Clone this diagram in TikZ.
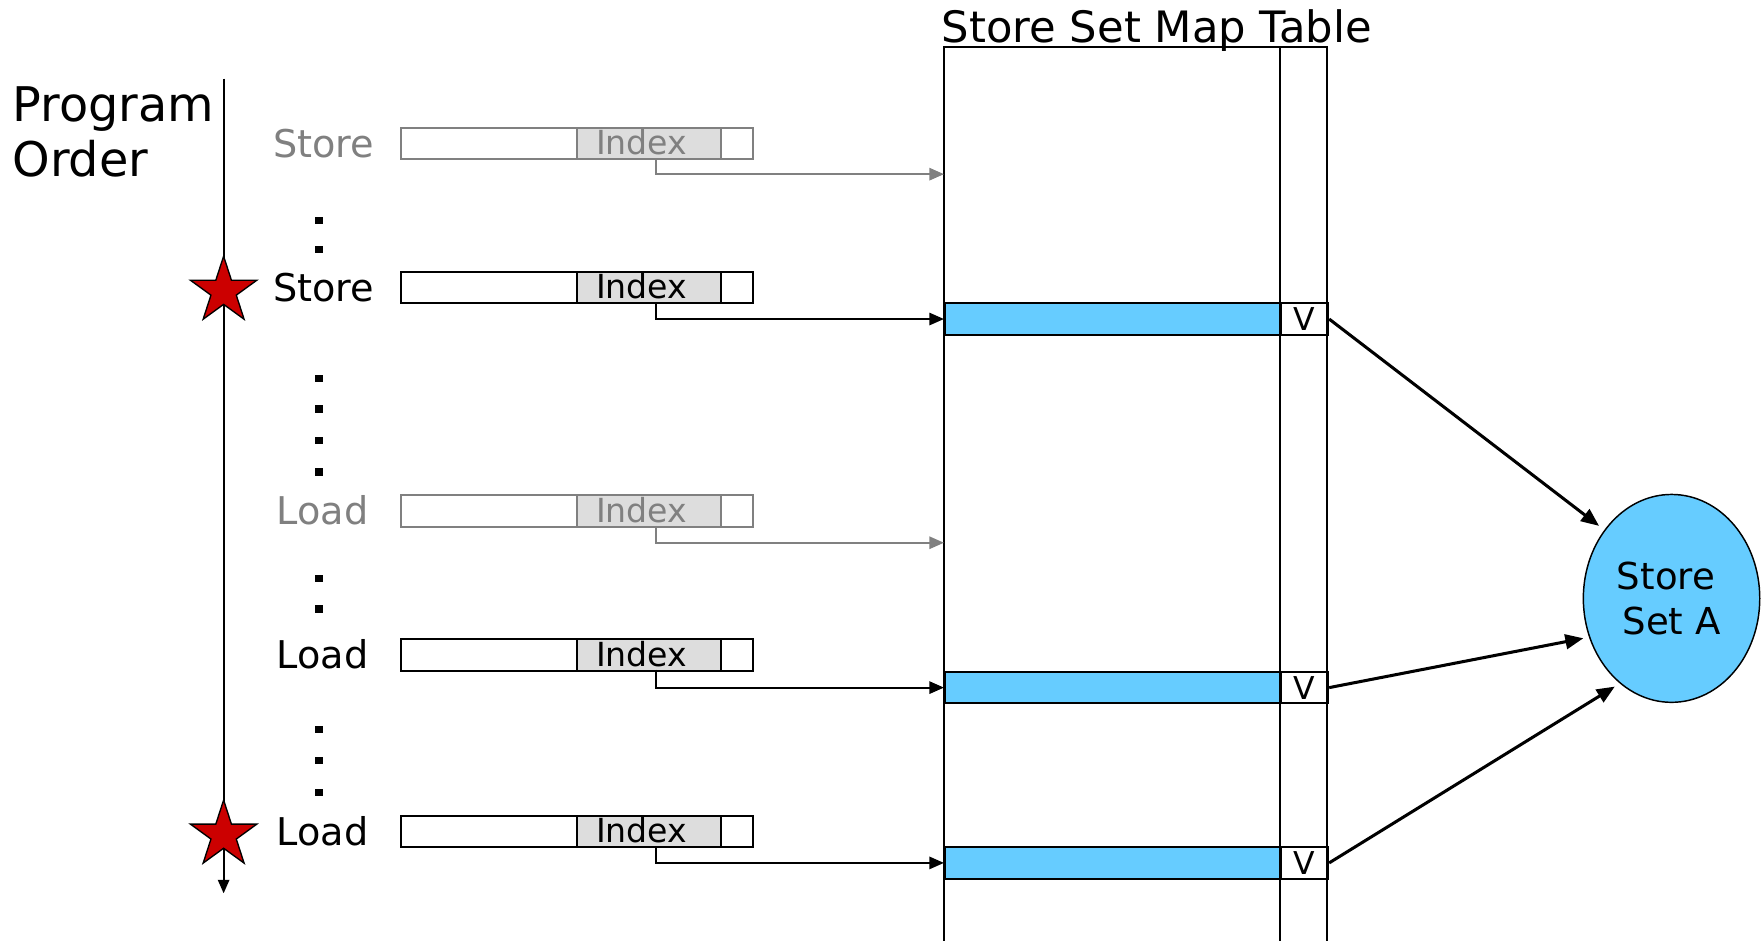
\documentclass[tikz,border=0pt]{standalone}
\usepackage{fontspec}
\setmainfont{DejaVu Sans}
\usetikzlibrary{arrows.meta,shapes.geometric}
\definecolor{hlblue}{HTML}{66CCFF}
\definecolor{idxgray}{HTML}{DDDDDD}
\definecolor{dimgray}{HTML}{808080}
\definecolor{starred}{HTML}{CC0000}
\begin{document}
\begin{tikzpicture}[x=1pt,y=-1pt,
  lbl/.style={font=\fontsize{34}{40}\selectfont, anchor=base west, inner sep=0pt},
  idxtxt/.style={font=\fontsize{29.5}{34}\selectfont, anchor=base, inner sep=0pt},
  instbox/.style={draw, line width=1.7pt, fill=white, minimum width=313pt, minimum height=28pt, inner sep=0pt, anchor=north west},
  idxcell/.style={draw, line width=1.7pt, fill=idxgray, minimum width=128pt, minimum height=28pt, inner sep=0pt, anchor=north west},
  hlrow/.style={draw, line width=1.8pt, fill=hlblue, minimum width=299pt, minimum height=28pt, inner sep=0pt, anchor=north west},
  vcell/.style={draw, line width=1.8pt, fill=white, minimum width=42pt, minimum height=28pt, inner sep=0pt, anchor=north west, font=\fontsize{28}{32}\selectfont},
  arr/.style={line width=1.7pt, -{Triangle[length=13pt,width=11pt]}},
  varr/.style={line width=2.7pt, -{Triangle[length=16pt,width=13pt]}},
  dotsq/.style={fill=black, minimum size=6.5pt, inner sep=0pt},
  starshape/.style={star, star points=5, star point ratio=2.618, minimum size=62pt, inner sep=0pt, draw=black, line width=1.2pt, fill=starred},
  tline/.style={line width=1.8pt}
]
\useasboundingbox (0,0) rectangle (1568,837);

% Program order
\node[font=\fontsize{42.5}{49}\selectfont, anchor=base west, inner sep=0pt] (prog) at (11,108.5) {Program};
\node[font=\fontsize{42.5}{49}\selectfont, anchor=base west, inner sep=0pt] (ord) at (11,157.5) {Order};
\coordinate (poTop) at (199,70);
\coordinate (poBot) at (199,795);
\draw[line width=1.8pt, -{Triangle[length=12pt,width=10pt]}] (poTop) -- (poBot);
\node[starshape] (st1) at (199,259) {};
\node[starshape] (st2) at (199,743) {};

% instructions
\foreach \n/\t/\c/\w/\lx in {1/113/dimgray/Store/243, 2/241/black/Store/243, 3/440/dimgray/Load/246, 4/568/black/Load/246, 5/725/black/Load/246} {
  \node[instbox, draw=\c] (ib\n) at (356,\t) {};
  \node[idxcell, draw=\c] (ic\n) at (513,\t) {};
  \node[idxtxt, text=\c] (it\n) at (571,{\t+24.75}) {Index};
  \node[lbl, text=\c] (lb\n) at (\lx,{\t+27}) {\w};
  \coordinate (src\n) at (584,{\t+28});
}

% dots
\foreach \y [count=\i] in {196,222,337,364,392,420,515,542,649,677,705} {
  \node[dotsq] (dt\i) at (284,\y) {};
}

% title
\node[font=\fontsize{38.5}{44}\selectfont, anchor=base west, inner sep=0pt] (title) at (838,38) {Store Set Map Table};

% table rows
\node[hlrow] (rowA) at (840,269) {};
\node[vcell] (vA) at (1139,269) {V};
\node[hlrow] (rowB) at (840,597) {};
\node[vcell] (vB) at (1139,597) {V};
\node[hlrow] (rowC) at (840,753) {};
\node[vcell] (vC) at (1139,753) {V};

% table outline
\coordinate (tTL) at (840,42);
\coordinate (tTR) at (1181,42);
\coordinate (tTD) at (1139,42);
\coordinate (tBL) at (840,845);
\coordinate (tBR) at (1181,845);
\coordinate (tBD) at (1139,845);
\draw[tline] (tBL) -- (tTL) -- (tTR) -- (tBR);
\draw[tline] (tTD) -- (tBD);

% index arrows
\coordinate (tgt1) at (840,155);
\coordinate (tgt3) at (840,483);
\draw[arr, color=dimgray] (src1) |- (tgt1);
\draw[arr] (src2) |- (rowA.west);
\draw[arr, color=dimgray] (src3) |- (tgt3);
\draw[arr] (src4) |- (rowB.west);
\draw[arr] (src5) |- (rowC.west);

% store set
\node[ellipse, draw, line width=1.3pt, fill=hlblue, minimum width=157pt, minimum height=185pt, inner sep=0pt, align=center, font=\fontsize{33}{40}\selectfont] (ssa) at (1487.5,532.5) {Store\rule{10pt}{0pt}\\Set A};
\coordinate (e1) at (1423,468);
\coordinate (e2) at (1409,568);
\coordinate (e3) at (1437,611);
\draw[varr] (vA.east) -- (e1);
\draw[varr] (vB.east) -- (e2);
\draw[varr] (vC.east) -- (e3);
\end{tikzpicture}
\end{document}
